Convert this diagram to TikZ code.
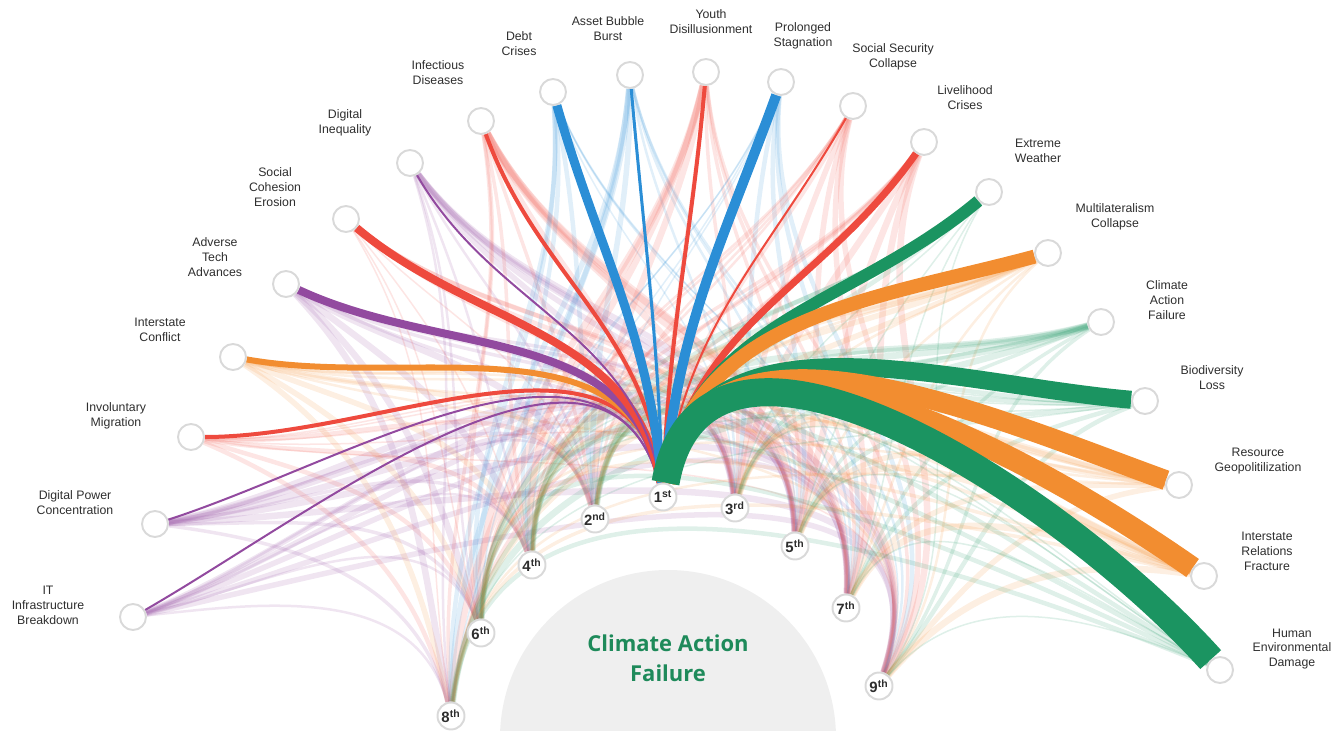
\documentclass[tikz,border=0pt]{standalone}
\usepackage{fontspec}
\setsansfont{Liberation Sans}
\newfontfamily\grmtitlefont{Open Sans}
\definecolor{grmBlue}{HTML}{2B8ED6}
\definecolor{grmRed}{HTML}{EE4A3E}
\definecolor{grmPurple}{HTML}{924A9F}
\definecolor{grmOrange}{HTML}{F28D30}
\definecolor{grmGreen}{HTML}{1B9461}
\definecolor{grmRing}{HTML}{D9D9D9}
\definecolor{grmDisc}{HTML}{EFEFEF}
\definecolor{grmText}{HTML}{2E2E2E}
\definecolor{grmTitle}{HTML}{1E8A5A}
\pgfdeclarelayer{disc}
\pgfdeclarelayer{links}
\pgfsetlayers{disc,links,main}
\tikzset{
  grm risk/.style={circle, draw=grmRing, fill=white, line width=1.1pt, minimum size=5.2mm, inner sep=0pt},
  grm rank/.style={circle, draw=grmRing, fill=white, line width=1.1pt, minimum size=5.4mm, inner sep=0pt, text=grmText, font=\sffamily\bfseries\fontsize{8.5}{9}\selectfont},
  grm label/.style={align=center, text=grmText, font=\sffamily\fontsize{7}{8.5}\selectfont},
  grm faint/.style={draw opacity=0.14},
  grm band/.style={line cap=butt},
  grm title/.style={align=center, text=grmTitle, font=\grmtitlefont\bfseries\fontsize{12.5}{17}\selectfont},
}

\begin{document}
\begin{tikzpicture}[x=0.02cm,y=0.02cm]
  \useasboundingbox (0,0) rectangle (1331,730);
  \begin{pgfonlayer}{disc}
    \begin{scope}
      \clip (0,0) rectangle (1331,730);
      \fill[grmDisc] (668,-8) circle[radius=168];
    \end{scope}
  \end{pgfonlayer}
  \node[grm title] (title) at (668,72) {Climate Action\\Failure};

  \foreach \nm/\x/\y/\lx/\ly/\txt in {
      itb/133/113/48/125/{IT\\Infrastructure\\Breakdown},
      dpc/155/206/75/227/{Digital Power\\Concentration},
      inm/191/293/116/314/{Involuntary\\Migration},
      isc/233/373/160/400/{Interstate\\Conflict},
      ata/286/446/215/473/{Adverse\\Tech\\Advances},
      sce/346/511/275/543/{Social\\Cohesion\\Erosion},
      din/410/567/345/607/{Digital\\Inequality},
      ifd/481/609/438/657/{Infectious\\Diseases},
      dbc/553/638/519/686/{Debt\\Crises},
      abb/630/655/608/701/{Asset Bubble\\Burst},
      ydi/706/658/711/708/{Youth\\Disillusionment},
      pst/781/648/803/694/{Prolonged\\Stagnation},
      ssc/853/624/893/673/{Social Security\\Collapse},
      lvc/924/588/965/632/{Livelihood\\Crises},
      exw/989/538/1038/579/{Extreme\\Weather},
      mlc/1048/477/1115/513/{Multilateralism\\Collapse},
      caf/1101/408/1167/430/{Climate\\Action\\Failure},
      bdl/1145/329/1212/352/{Biodiversity\\Loss},
      rgp/1179/245/1258/269/{Resource\\Geopolitilization},
      irf/1204/154/1267/179/{Interstate\\Relations\\Fracture},
      hed/1220/60/1292/81/{Human\\Environmental\\Damage}} {
    \node[grm risk] (\nm) at (\x,\y) {};
    \node[grm label] (\nm-label) at (\lx,\ly) {\txt};
  }

  \foreach \nm/\x/\y/\n/\s in {r1/663/233/1/st, r2/595/211/2/nd, r3/735/222/3/rd,
      r4/532/165/4/th, r5/795/184/5/th, r6/481/97/6/th, r7/846/122/7/th,
      r8/451/14/8/th, r9/879/44/9/th} {
    \node[grm rank] (\nm) at (\x,\y) {\n\textsuperscript{\s}};
  }

  \begin{pgfonlayer}{links}
    \foreach \nm/\sx/\sy/\c/\a [count=\k] in {
        itb/133/113/grmPurple/30, dpc/155/206/grmPurple/18,
        inm/191/293/grmRed/0, isc/233/373/grmOrange/-10,
        ata/286/446/grmPurple/-25, sce/346/511/grmRed/-40,
        din/410/567/grmPurple/-60, ifd/481/609/grmRed/-70,
        dbc/553/638/grmBlue/-74, abb/630/655/grmBlue/-85,
        ydi/706/658/grmRed/-95, pst/781/648/grmBlue/-110,
        ssc/853/624/grmRed/-120, lvc/924/588/grmRed/-125,
        exw/989/538/grmGreen/-140, mlc/1048/477/grmOrange/-165,
        caf/1101/408/grmGreen/-172, bdl/1145/329/grmGreen/175,
        rgp/1179/245/grmOrange/160, irf/1204/154/grmOrange/145,
        hed/1220/60/grmGreen/132} {
      \foreach \r/\rx/\ry/\ri [count=\j] in {r1/663/233/90, r2/595/211/95,
          r3/735/222/85, r4/532/165/100, r5/795/184/80, r6/481/97/100,
          r7/846/122/75, r8/451/14/95, r9/879/44/60} {
        \pgfmathsetmacro\t{atan2(\ry-\sy,\rx-\sx)}
        \pgfmathsetmacro\oa{\a+(mod(\t-\a+540,360)-180)/2}
        \pgfmathsetmacro\ia{\ri+max(-12,min(12,(\rx-\sx)/30))}
        \pgfmathsetmacro\fw{(1.5+mod(\k*7+\j*3,6))*0.57}
        \draw[grm faint, draw=\c, line width=\fw pt]
          (\nm) to[out=\oa, in=\ia] (\r);
      }
    }
    \foreach \nm/\c/\a/\i/\w in {
        itb/grmPurple/30/105/2, dpc/grmPurple/18/105/2,
        inm/grmRed/0/100/4, isc/grmOrange/-10/100/6,
        ata/grmPurple/-25/100/8, sce/grmRed/-40/100/8,
        din/grmPurple/-60/100/2, ifd/grmRed/-70/95/4,
        dbc/grmBlue/-74/95/9, abb/grmBlue/-85/92/3,
        ydi/grmRed/-95/88/4, pst/grmBlue/-110/85/10,
        ssc/grmRed/-120/82/2, lvc/grmRed/-125/80/7,
        exw/grmGreen/-140/80/12, mlc/grmOrange/-165/80/14,
        bdl/grmGreen/175/80/18, rgp/grmOrange/160/80/20,
        irf/grmOrange/145/80/22, hed/grmGreen/132/80/28} {
      \draw[grm band, draw=\c, line width=\w*0.57pt] (\nm) to[out=\a, in=\i] (r1);
    }
  \end{pgfonlayer}
\end{tikzpicture}
\end{document}
